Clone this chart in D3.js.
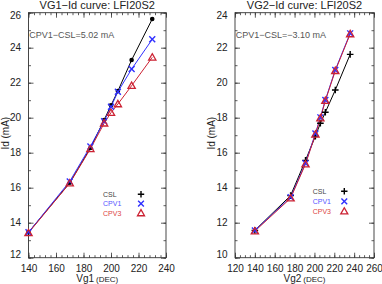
<!DOCTYPE html>
<html><head><meta charset="utf-8">
<script src="https://cdn.jsdelivr.net/npm/d3@7"></script>
<style>
body{margin:0;background:#fff;}
svg{display:block;}
text{font-family:"Liberation Sans",Arial,Helvetica,sans-serif;}
</style></head>
<body><svg id="c" width="382" height="284"></svg>
<script>
// ---- data ----
const vg1 = [140,170,185,195,200,205,215,230];
const vg1Csl  = [13.45,16.28,18.27,19.87,20.71,21.52,23.30,25.64];
const vg1Cpv1 = [13.45,16.36,18.36,19.80,20.63,21.48,22.78,24.48];
const vg1Cpv3 = [13.42,16.26,18.22,19.68,20.29,20.78,21.83,23.45];

const vg2 = [140,176,191,201,206,211,221,236];
const vg2Csl  = [11.56,13.55,15.56,16.95,17.68,18.31,19.58,21.62];
const vg2Cpv1 = [11.56,13.45,15.40,17.10,18.02,19.01,20.73,22.82];
const vg2Cpv3 = [11.52,13.40,15.35,17.05,17.97,18.97,20.68,22.78];

const xTicks1 = [140,160,180,200,220,240];
const yTicks1 = [12,14,16,18,20,22,24,26];
const xTicks2 = [120,140,160,180,200,220,240,260];
const yTicks2 = [10,12,14,16,18,20,22,24];

const titles = ["VG1\u2212Id curve: LFI20S2","VG2\u2212Id curve: LFI20S2"];
const notes = ["CPV1\u2212CSL=5.02 mA","CPV1\u2212CSL=\u22123.10 mA"];
const xLabels = ["Vg1","Vg2"];
const seriesNames = ["CSL","CPV1","CPV3"];

const COL = {CSL:"#000000", CPV1:"#3030ff", CPV3:"#cc2233"};
const TXT = {CSL:"#444444", CPV1:"#5555ff", CPV3:"#dd4444"};

const svg = d3.select("#c");
const TOP = 12.7, BOT = 257.7;

function marker(g, type, cx, cy, color, s){
  if(type==="dot"){
    g.append("circle").attr("cx",cx).attr("cy",cy).attr("r",2.3).attr("fill",color);
  } else if(type==="plus"){
    g.append("path").attr("d",`M${cx-s},${cy}H${cx+s}M${cx},${cy-s}V${cy+s}`)
     .attr("stroke",color).attr("stroke-width",1.4).attr("fill","none");
  } else if(type==="cross"){
    const t=s*0.9;
    g.append("path").attr("d",`M${cx-t},${cy-t}L${cx+t},${cy+t}M${cx-t},${cy+t}L${cx+t},${cy-t}`)
     .attr("stroke",color).attr("stroke-width",1.4).attr("fill","none");
  } else if(type==="tri"){
    const h=s*1.1;
    g.append("path").attr("d",`M${cx},${cy-h}L${cx+h},${cy+h*0.75}L${cx-h},${cy+h*0.75}Z`)
     .attr("stroke",color).attr("stroke-width",1.3).attr("fill","none");
  }
}

function panel(p){
  const x = d3.scaleLinear().domain(p.xDomain).range([p.left,p.right]);
  const y = d3.scaleLinear().domain(p.yDomain).range([BOT,TOP]);
  const g = svg.append("g");
  const axCol = "#333";

  const minorX = d3.range(p.xDomain[0], p.xDomain[1]+0.001, p.xMinor);
  const minorY = d3.range(p.yDomain[0], p.yDomain[1]+0.001, 1);

  function styleAxis(sel){
    sel.select(".domain").remove();
    sel.selectAll("line").attr("stroke",axCol).attr("stroke-width",0.8);
    sel.selectAll("text").attr("fill","#222").style("font-size","10px")
       .style("font-family",'"Liberation Sans",Arial,sans-serif');
  }
  // bottom
  g.append("g").attr("transform",`translate(0,${BOT})`)
    .call(d3.axisBottom(x).tickValues(minorX).tickSizeInner(-2.5).tickSizeOuter(0).tickFormat(""))
    .call(styleAxis);
  g.append("g").attr("transform",`translate(0,${BOT})`)
    .call(d3.axisBottom(x).tickValues(p.xTicks).tickSizeInner(-5).tickSizeOuter(0).tickPadding(7).tickFormat(d3.format("d")))
    .call(styleAxis);
  // top
  g.append("g").attr("transform",`translate(0,${TOP})`)
    .call(d3.axisTop(x).tickValues(minorX).tickSizeInner(-2.5).tickSizeOuter(0).tickFormat(""))
    .call(styleAxis);
  g.append("g").attr("transform",`translate(0,${TOP})`)
    .call(d3.axisTop(x).tickValues(p.xTicks).tickSizeInner(-5).tickSizeOuter(0).tickFormat(""))
    .call(styleAxis);
  // left
  g.append("g").attr("transform",`translate(${p.left},0)`)
    .call(d3.axisLeft(y).tickValues(minorY).tickSizeInner(-2.5).tickSizeOuter(0).tickFormat(""))
    .call(styleAxis);
  const yl = g.append("g").attr("transform",`translate(${p.left},0)`)
    .call(d3.axisLeft(y).tickValues(p.yTicks).tickSizeInner(-5).tickSizeOuter(0).tickPadding(7.5).tickFormat(d3.format("d")))
    .call(styleAxis);
  yl.selectAll("text").attr("dy",(d,i,n)=> i===0 ? "0.02em" : (i===n.length-1 ? "0.62em" : "0.32em"));
  // right
  g.append("g").attr("transform",`translate(${p.right},0)`)
    .call(d3.axisRight(y).tickValues(minorY).tickSizeInner(-2.5).tickSizeOuter(0).tickFormat(""))
    .call(styleAxis);
  g.append("g").attr("transform",`translate(${p.right},0)`)
    .call(d3.axisRight(y).tickValues(p.yTicks).tickSizeInner(-5).tickSizeOuter(0).tickFormat(""))
    .call(styleAxis);
  // frame
  g.append("rect").attr("x",p.left).attr("y",TOP).attr("width",p.right-p.left).attr("height",BOT-TOP)
    .attr("fill","none").attr("stroke",axCol).attr("stroke-width",0.9);

  // title
  g.append("text").attr("x",(p.left+p.right)/2).attr("y",9).attr("text-anchor","middle")
    .style("font-size","11px").attr("fill","#222").text(p.title);
  // note
  g.append("text").attr("x",p.left+0.8).attr("y",37.5).style("font-size","9px").attr("fill","#555").text(p.note);
  // x label
  const xl = g.append("text").attr("x",(p.left+p.right)/2).attr("y",282).attr("text-anchor","middle").attr("fill","#222");
  xl.append("tspan").style("font-size","10px").text(p.xLabel);
  xl.append("tspan").style("font-size","8px").attr("dx","2").text("(DEC)");
  // y label
  g.append("text").attr("transform",`translate(${p.left-20},${(TOP+BOT)/2-2}) rotate(-90)`)
    .attr("text-anchor","middle").attr("fill","#222").style("font-size","10px").text("Id (mA)");

  // lines + markers
  const line = d3.line().x(d=>x(d[0])).y(d=>y(d[1]));
  p.series.forEach(s=>{
    const pts = p.xs.map((v,i)=>[v,s.values[i]]);
    g.append("path").datum(pts).attr("d",line).attr("fill","none")
      .attr("stroke",COL[s.name]).attr("stroke-width",1);
  });
  p.series.forEach(s=>{
    p.xs.forEach((v,i)=> marker(g, s.mark, x(v), y(s.values[i]), COL[s.name], 3.3));
  });

  // legend
  p.series.forEach((s,i)=>{
    const ly = p.legY + i*p.legDy;
    g.append("text").attr("x",p.legX).attr("y",ly+2.5).style("font-size","7px")
      .attr("fill",TXT[s.name]).text(s.name);
    marker(g, s.legMark, p.legSym, ly, COL[s.name], 3.2);
  });
}

panel({
  xDomain:[140,240], yDomain:[12,26], left:28.5, right:166, xMinor:4,
  xTicks:xTicks1, yTicks:yTicks1, title:titles[0], note:notes[0], xLabel:xLabels[0],
  xs:vg1,
  series:[
    {name:seriesNames[0], values:vg1Csl, mark:"dot", legMark:"plus"},
    {name:seriesNames[1], values:vg1Cpv1, mark:"cross", legMark:"cross"},
    {name:seriesNames[2], values:vg1Cpv3, mark:"tri", legMark:"tri"}
  ],
  legX:103, legSym:141, legY:194.3, legDy:9.4
});
panel({
  xDomain:[120,260], yDomain:[10,24], left:235, right:374, xMinor:5,
  xTicks:xTicks2, yTicks:yTicks2, title:titles[1], note:notes[1], xLabel:xLabels[1],
  xs:vg2,
  series:[
    {name:seriesNames[0], values:vg2Csl, mark:"plus", legMark:"plus"},
    {name:seriesNames[1], values:vg2Cpv1, mark:"cross", legMark:"cross"},
    {name:seriesNames[2], values:vg2Cpv3, mark:"tri", legMark:"tri"}
  ],
  legX:312.7, legSym:344.3, legY:191.3, legDy:10
});
</script></body></html>
